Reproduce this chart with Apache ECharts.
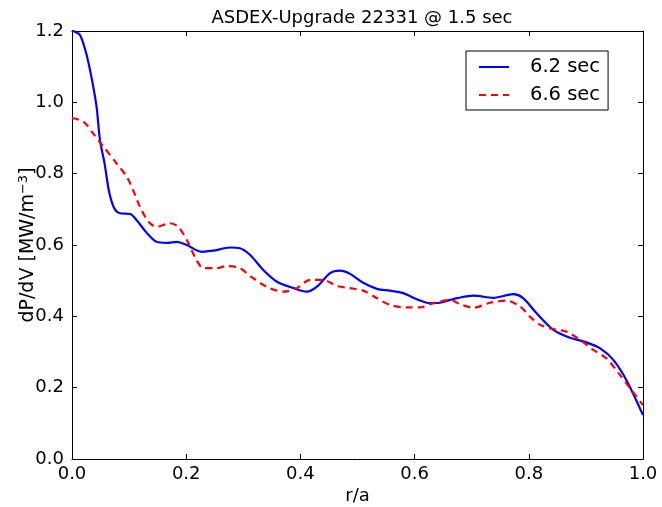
<!DOCTYPE html>
<html>
<head>
<meta charset="utf-8">
<script src="https://cdn.jsdelivr.net/npm/echarts@6/dist/echarts.min.js"></script>
<style>
html, body { margin: 0; padding: 0; background: #fff; }
#chart { width: 662px; height: 507px; }
</style>
</head>
<body>
<div id="chart"></div>
<script>
// r/a and dP/dV, 6.2 sec
var rBlue = [0, 0.005, 0.014, 0.025, 0.035, 0.043, 0.049, 0.057, 0.065, 0.074, 0.084, 0.102, 0.113, 0.131, 0.148, 0.166, 0.183, 0.201, 0.227, 0.247, 0.277, 0.294, 0.312, 0.335, 0.359, 0.388, 0.411, 0.429, 0.452, 0.469, 0.487, 0.510, 0.534, 0.557, 0.580, 0.604, 0.627, 0.644, 0.662, 0.674, 0.703, 0.738, 0.773, 0.790, 0.814, 0.843, 0.872, 0.901, 0.925, 0.948, 0.971, 1.0];
var pBlue = [1.20, 1.198, 1.189, 1.137, 1.063, 0.988, 0.894, 0.829, 0.749, 0.703, 0.689, 0.687, 0.670, 0.634, 0.609, 0.606, 0.609, 0.600, 0.581, 0.584, 0.593, 0.591, 0.572, 0.530, 0.497, 0.479, 0.469, 0.483, 0.521, 0.528, 0.519, 0.494, 0.477, 0.472, 0.465, 0.448, 0.437, 0.438, 0.446, 0.451, 0.458, 0.452, 0.462, 0.451, 0.408, 0.362, 0.340, 0.327, 0.310, 0.278, 0.221, 0.123];
// 6.6 sec
var rRed = [0, 0.020, 0.037, 0.055, 0.078, 0.096, 0.107, 0.119, 0.134, 0.148, 0.172, 0.186, 0.201, 0.218, 0.230, 0.253, 0.271, 0.294, 0.312, 0.341, 0.370, 0.394, 0.417, 0.440, 0.464, 0.487, 0.510, 0.534, 0.557, 0.586, 0.609, 0.633, 0.662, 0.680, 0.703, 0.732, 0.761, 0.785, 0.802, 0.820, 0.843, 0.866, 0.890, 0.913, 0.936, 0.960, 0.980, 1.0];
var pRed = [0.956, 0.946, 0.913, 0.876, 0.829, 0.791, 0.754, 0.707, 0.665, 0.651, 0.661, 0.651, 0.614, 0.558, 0.535, 0.535, 0.541, 0.535, 0.513, 0.483, 0.469, 0.479, 0.502, 0.502, 0.485, 0.479, 0.472, 0.451, 0.432, 0.425, 0.425, 0.437, 0.446, 0.434, 0.424, 0.438, 0.444, 0.427, 0.399, 0.376, 0.364, 0.357, 0.334, 0.306, 0.282, 0.235, 0.193, 0.151];
var seriesNames = ["6.2 sec", "6.6 sec"];

var font = "DejaVu Sans";

function pairs(xs, ys) {
	return xs.map(function(x, i) {
		return [x, ys[i]];
	});
}

var chart = echarts.init(document.getElementById("chart"), null, {renderer: "canvas"});

// matplotlib look: ticks inside on every side
var tickIn = {show: true, inside: true, length: 5, lineStyle: {color: "#000", width: 1}};
var line = {show: true, onZero: false, lineStyle: {color: "#000", width: 1}};

var option = {
	animation: false,
	backgroundColor: "#fff",
	title: {
		text: "ASDEX-Upgrade 22331 @ 1.5 sec",
		left: 357,
		textAlign: "center",
		top: 4,
		textStyle: {fontFamily: font, fontSize: 18, fontWeight: "normal", color: "#000"}
	},
	// keep the plot box where it is, don't squeeze it for the labels
	grid: {left: 72, right: 19, top: 31, bottom: 48, containLabel: false, outerBoundsMode: "none"},
	legend: {
		orient: "vertical",
		left: 466,
		top: 51,
		padding: [6, 8, 5, 12],
		itemGap: 8,
		itemWidth: 30,
		itemHeight: 14,
		borderColor: "#000",
		borderWidth: 1,
		borderRadius: 0,
		itemStyle: {opacity: 0},
		textStyle: {fontFamily: font, fontSize: 19.5, color: "#000", padding: [0, 0, 0, 16]},
		data: seriesNames
	},
	xAxis: [{
		type: "value",
		min: 0,
		max: 1,
		interval: 0.2,
		name: "r/a",
		nameLocation: "middle",
		nameGap: 28,
		nameMoveOverlap: false,
		nameTextStyle: {fontFamily: font, fontSize: 18, color: "#000"},
		axisLine: line,
		axisTick: tickIn,
		splitLine: {show: false},
		axisLabel: {
			fontFamily: font, fontSize: 18, color: "#000", margin: 6,
			formatter: function(v) { return v.toFixed(1); }
		}
	}, {
		type: "value",
		position: "top",
		min: 0,
		max: 1,
		interval: 0.2,
		axisLine: line,
		axisTick: tickIn,
		splitLine: {show: false},
		axisLabel: {show: false}
	}],
	yAxis: [{
		type: "value",
		min: 0,
		max: 1.2,
		interval: 0.2,
		name: "dP/dV [MW/m{sup|−3}]",
		nameLocation: "middle",
		nameGap: 33,
		nameMoveOverlap: false,
		nameTextStyle: {
			fontFamily: font, fontSize: 19, color: "#000",
			rich: {sup: {fontFamily: font, fontSize: 13, verticalAlign: "top", padding: [0, 0, 9, 0]}}
		},
		axisLine: line,
		axisTick: tickIn,
		splitLine: {show: false},
		axisLabel: {
			fontFamily: font, fontSize: 18, color: "#000", margin: 8,
			formatter: function(v) { return v.toFixed(1); }
		}
	}, {
		type: "value",
		position: "right",
		min: 0,
		max: 1.2,
		interval: 0.2,
		axisLine: line,
		axisTick: tickIn,
		splitLine: {show: false},
		axisLabel: {show: false}
	}],
	series: [{
		name: seriesNames[0],
		type: "line",
		smooth: 0.3,
		symbol: "none",
		data: pairs(rBlue, pBlue),
		itemStyle: {color: "#0000ff"},
		lineStyle: {color: "#0000ff", width: 2.2}
	}, {
		name: seriesNames[1],
		type: "line",
		smooth: 0.3,
		symbol: "none",
		data: pairs(rRed, pRed),
		itemStyle: {color: "#ff0000"},
		lineStyle: {color: "#ff0000", width: 2.2, type: [7, 5]}
	}]
};

chart.setOption(option);
</script>
</body>
</html>
